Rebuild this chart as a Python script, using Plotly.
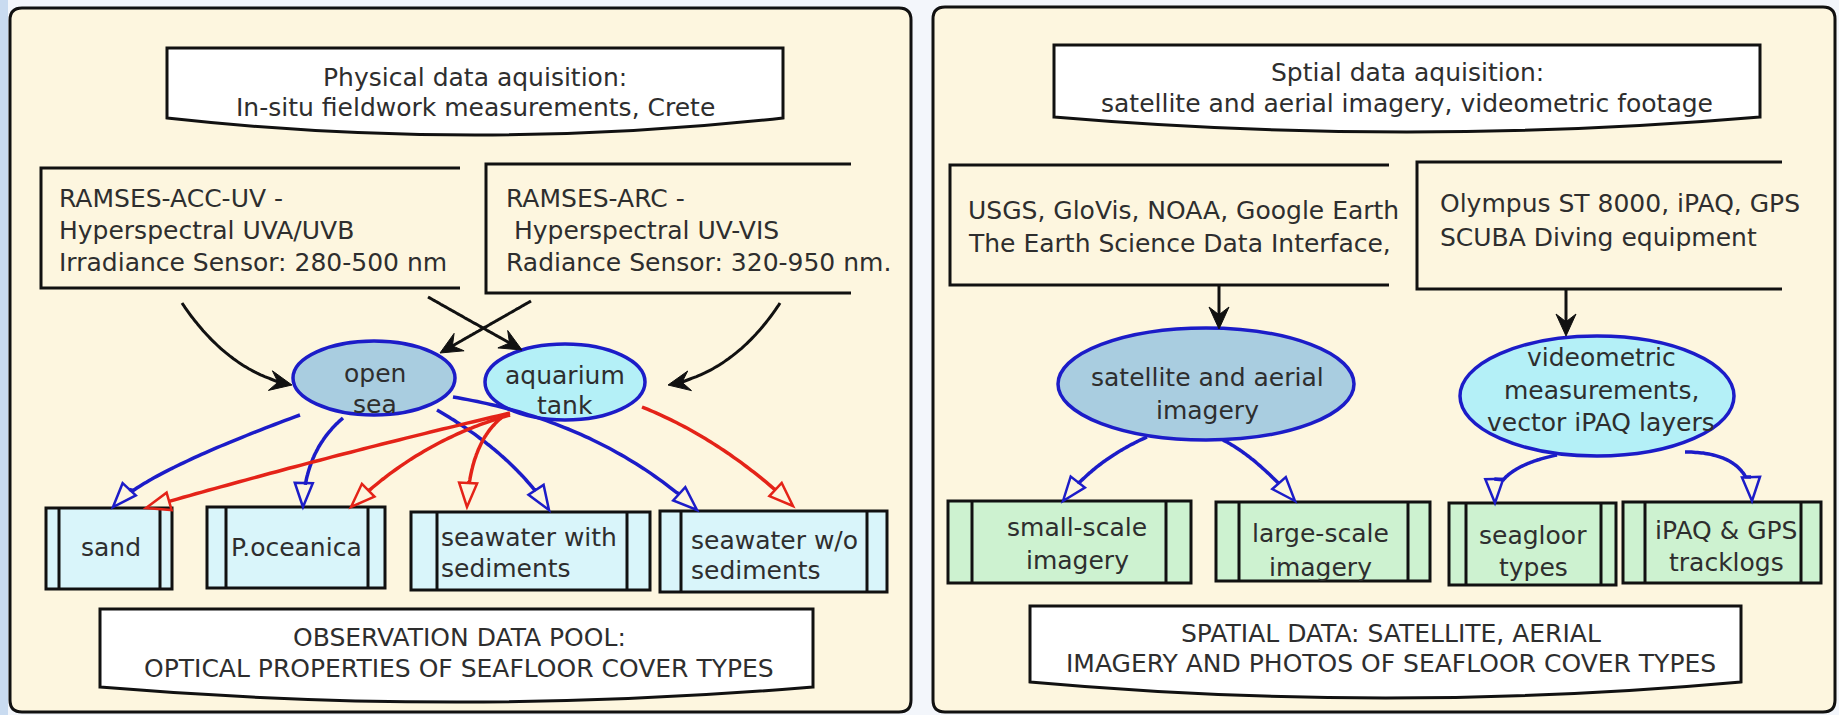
import numpy as np
import plotly.graph_objects as go

# ---- diagram content -------------------------------------------------------
HEADERS = [
    ["Physical data aquisition:", "In-situ fieldwork measurements, Crete"],
    ["Sptial data aquisition:", "satellite and aerial imagery, videometric footage"],
]
SOURCES = [
    ["RAMSES-ACC-UV -", "Hyperspectral UVA/UVB", "Irradiance Sensor: 280-500 nm"],
    ["RAMSES-ARC -", "\u00a0Hyperspectral UV-VIS", "Radiance Sensor: 320-950 nm."],
    ["USGS, GloVis, NOAA, Google Earth", "The Earth Science Data Interface,"],
    ["Olympus ST 8000, iPAQ, GPS", "SCUBA Diving equipment"],
]
HUBS = [
    ["open", "sea"],
    ["aquarium", "tank"],
    ["satellite and aerial", "imagery"],
    ["videometric", "measurements,", "vector iPAQ layers"],
]
OUTPUTS = [
    ["sand"],
    ["P.oceanica"],
    ["seawater with", "sediments"],
    ["seawater w/o", "sediments"],
    ["small-scale", "imagery"],
    ["large-scale", "imagery"],
    ["seagloor", "types"],
    ["iPAQ & GPS", "tracklogs"],
]
FOOTERS = [
    ["OBSERVATION DATA POOL:", "OPTICAL PROPERTIES OF SEAFLOOR COVER TYPES"],
    ["SPATIAL DATA: SATELLITE, AERIAL", "IMAGERY AND PHOTOS OF SEAFLOOR COVER TYPES"],
]
# source -> hub (black arrows) and hub -> output (coloured arrows)
SOURCE_LINKS = [(0, 0), (0, 1), (1, 0), (1, 1), (2, 2), (3, 3)]
HUB_LINKS = [(0, 0), (0, 1), (0, 2), (0, 3),
             (1, 0), (1, 1), (1, 2), (1, 3),
             (2, 4), (2, 5), (3, 6), (3, 7)]

# ---- layout (pixel coordinates, y downwards) -------------------------------
W, H = 1839, 715
PANELS = [(10, 8, 911, 712), (933, 7, 1835, 712)]
HEADER_BOX = [(167, 48, 783, 118, 17), (1054, 45, 1760, 117, 15)]
HEADER_TEXT = [(475, [77, 107]), (1407, [72, 103])]
SOURCE_BOX = [(41, 168, 460, 288), (486, 164, 851, 293),
              (950, 165, 1389, 285), (1417, 162, 1782, 289)]
SOURCE_TEXT = [(57, [198, 230, 262]), (504, [198, 230, 262]),
               (966, [210, 243]), (1438, [203, 237])]
HUB_ELLIPSE = [(374, 378, 81, 37), (565, 382, 80, 38),
               (1206, 384, 148, 56), (1597, 396, 137, 60)]
HUB_FILL = ["#a9cde0", "#b4f0f7", "#a9cde0", "#b4f0f7"]
HUB_TEXT = [(375, [373, 404]), (565, [375, 405]),
            (1207, [377, 410]), (1601, [357, 390, 422])]
OUT_BOX = [(46, 508, 172, 589, 59, 160), (207, 507, 385, 588, 226, 368),
           (411, 512, 650, 590, 437, 627), (660, 511, 887, 592, 681, 867),
           (948, 501, 1191, 583, 972, 1166), (1216, 502, 1430, 581, 1239, 1408),
           (1449, 503, 1616, 585, 1466, 1601), (1623, 502, 1821, 583, 1645, 1801)]
OUT_FILL = ["#d9f5fa"] * 4 + ["#cdf2d0"] * 4
OUT_TEXT = [("c", 111, [547]), ("c", 296, [547]), ("l", 439, [537, 568]),
            ("l", 689, [540, 570]), ("c", 1077, [527, 560]), ("c", 1320, [533, 567]),
            ("c", 1533, [535, 567]), ("c", 1726, [530, 562])]
FOOTER_BOX = [(100, 609, 813, 687, 15), (1030, 606, 1741, 682, 16)]
FOOTER_TEXT = [(459, [637, 668]), (1391, [633, 663])]

SOURCE_PATHS = [((182, 303), (228, 372), (292, 385)),
                ((428, 297), None, (522, 350)),
                ((531, 301), None, (440, 353)),
                ((780, 303), (735, 372), (668, 385)),
                ((1219, 285), None, (1219, 329)),
                ((1566, 290), None, (1566, 336))]
HUB_PATHS = [((300, 415), (145, 472), (113, 507)),
             ((343, 418), (305, 450), (303, 507)),
             ((437, 410), (513, 454), (549, 510)),
             ((453, 397), (599, 421), (697, 510)),
             ((510, 413), (330, 455), (146, 508)),
             ((510, 415), (420, 440), (351, 507)),
             ((505, 415), (470, 440), (467, 507)),
             ((642, 407), (722, 439), (793, 506)),
             ((1147, 437), (1095, 460), (1063, 501)),
             ((1223, 440), (1255, 456), (1295, 501)),
             ((1557, 455), (1494, 468), (1495, 503)),
             ((1685, 452), (1750, 452), (1752, 501))]
HUB_COLOR = ["#1c1cc8", "#e42318", "#1c1cc8", "#1c1cc8"]

FONT = "DejaVu Sans"
FS = 25
TXT = "#2e2e2e"
CREAM = "#fdf6df"

shapes = []
annotations = []


def add_text(x, ys, lines, anchor="center"):
    for y, line in zip(ys, lines):
        annotations.append(dict(x=x, y=y, text=line, showarrow=False,
                                xanchor=anchor, yanchor="middle",
                                font=dict(family=FONT, size=FS, color=TXT)))


def path_str(pts, close=False):
    s = "M " + " L ".join(f"{x:.1f},{y:.1f}" for x, y in pts)
    return s + (" Z" if close else "")


def rounded_rect(x0, y0, x1, y1, r):
    return (f"M {x0 + r},{y0} L {x1 - r},{y0} Q {x1},{y0} {x1},{y0 + r} "
            f"L {x1},{y1 - r} Q {x1},{y1} {x1 - r},{y1} L {x0 + r},{y1} "
            f"Q {x0},{y1} {x0},{y1 - r} L {x0},{y0 + r} Q {x0},{y0} {x0 + r},{y0} Z")


def document(x0, y0, x1, yb, d):
    xm = (x0 + x1) / 2
    return f"M {x0},{y0} L {x1},{y0} L {x1},{yb} Q {xm},{yb + 2 * d} {x0},{yb} Z"


def arrow(p0, c, p2, color, width, head, filled):
    p0, p2 = np.array(p0, float), np.array(p2, float)
    c = (p0 + p2) / 2 if c is None else np.array(c, float)
    t = np.linspace(0, 1, 60)[:, None]
    pts = (1 - t) ** 2 * p0 + 2 * (1 - t) * t * c + t ** 2 * p2
    u = p2 - c
    u = u / np.linalg.norm(u)
    n = np.array([-u[1], u[0]])
    L, w = head
    base = p2 - L * u
    keep = pts[np.linalg.norm(pts - p2, axis=1) > L]
    line_pts = np.vstack([keep, base if not filled else p2 - 0.6 * L * u])
    shapes.append(dict(type="path", path=path_str(line_pts), line=dict(color=color, width=width)))
    if filled:
        head_pts = [p2, base + w * n, p2 - 0.65 * L * u, base - w * n]
        shapes.append(dict(type="path", path=path_str(head_pts, True),
                           fillcolor=color, line=dict(color=color, width=1)))
    else:
        head_pts = [p2, base + w * n, base - w * n]
        shapes.append(dict(type="path", path=path_str(head_pts, True),
                           fillcolor="rgba(0,0,0,0)", line=dict(color=color, width=2.5)))


# background strip and panels
shapes.append(dict(type="rect", x0=0, y0=0, x1=8, y1=H, fillcolor="#c9dbf0", line=dict(width=0)))
for x0, y0, x1, y1 in PANELS:
    shapes.append(dict(type="path", path=rounded_rect(x0, y0, x1, y1, 12),
                       fillcolor=CREAM, line=dict(color="#111", width=3)))

# header / footer document boxes
for (x0, y0, x1, yb, d), (cx, ys), lines in zip(HEADER_BOX, HEADER_TEXT, HEADERS):
    shapes.append(dict(type="path", path=document(x0, y0, x1, yb, d),
                       fillcolor="white", line=dict(color="#111", width=3)))
    add_text(cx, ys, lines)
for (x0, y0, x1, yb, d), (cx, ys), lines in zip(FOOTER_BOX, FOOTER_TEXT, FOOTERS):
    shapes.append(dict(type="path", path=document(x0, y0, x1, yb, d),
                       fillcolor="white", line=dict(color="#111", width=3)))
    add_text(cx, ys, lines)

# source boxes (open on the right)
for (x0, y0, x1, y1), (tx, ys), lines in zip(SOURCE_BOX, SOURCE_TEXT, SOURCES):
    shapes.append(dict(type="path", path=path_str([(x1, y0), (x0, y0), (x0, y1), (x1, y1)]),
                       line=dict(color="#111", width=3)))
    add_text(tx, ys, lines, "left")

# hubs
for (cx, cy, rx, ry), fill in zip(HUB_ELLIPSE, HUB_FILL):
    shapes.append(dict(type="circle", x0=cx - rx, x1=cx + rx, y0=cy - ry, y1=cy + ry,
                       fillcolor=fill, line=dict(color="#1c1cc8", width=3.5)))

# output boxes
for (x0, y0, x1, y1, i0, i1), fill in zip(OUT_BOX, OUT_FILL):
    shapes.append(dict(type="rect", x0=x0, y0=y0, x1=x1, y1=y1,
                       fillcolor=fill, line=dict(color="#111", width=3)))
    for xi in (i0, i1):
        shapes.append(dict(type="line", x0=xi, x1=xi, y0=y0, y1=y1,
                           line=dict(color="#111", width=3)))

# arrows
for (s, h), (p0, c, p2) in zip(SOURCE_LINKS, SOURCE_PATHS):
    arrow(p0, c, p2, "#111", 3, (22, 10), True)
for (h, o), (p0, c, p2) in zip(HUB_LINKS, HUB_PATHS):
    arrow(p0, c, p2, HUB_COLOR[h], 3.5, (24, 9), False)

# labels on top
for (cx, ys), lines in zip(HUB_TEXT, HUBS):
    add_text(cx, ys, lines)
for (anchor, tx, ys), lines in zip(OUT_TEXT, OUTPUTS):
    add_text(tx, ys, lines, "center" if anchor == "c" else "left")

fig = go.Figure()
fig.update_layout(
    width=W, height=H, margin=dict(l=0, r=0, t=0, b=0),
    paper_bgcolor="#f3f6fb", plot_bgcolor="#f3f6fb",
    xaxis=dict(range=[0, W], visible=False, fixedrange=True),
    yaxis=dict(range=[H, 0], visible=False, fixedrange=True),
    shapes=shapes, annotations=annotations, showlegend=False,
)
fig.write_html("out.html", post_script="document.body.style.margin='0';",
               config={"displayModeBar": False})
